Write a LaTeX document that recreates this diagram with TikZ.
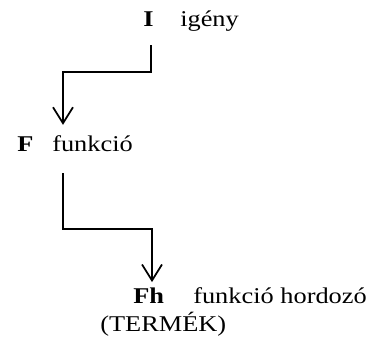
\documentclass[tikz,border=0pt]{standalone}
\usepackage{fontspec}
\setmainfont{Liberation Serif}[FakeStretch=1.17]
\usetikzlibrary{arrows.meta,calc}
\tikzset{
  lbl/.style={anchor=base west, inner sep=0pt, font=\fontsize{16.9}{19}\selectfont},
  conn/.style={line width=1.5pt},
  arr/.style={conn, -{Straight Barb[length=12pt,width=15pt,line width=1.3pt]}}
}
\begin{document}
\begin{tikzpicture}[x=0.75pt,y=-0.75pt]
\useasboundingbox (0,0) rectangle (374,338);
\node[lbl] (I) at (143,27) {\textbf{I}};
\node[lbl] (ig) at (180,27) {igény};
\node[lbl] (F) at (17,152) {\textbf{F}};
\node[lbl] (funk) at (52,152) {funkció};
\node[lbl] (Fh) at (133,303) {\textbf{Fh}};
\node[lbl] (fh) at (193,303) {funkció hordozó};
\node[lbl] (T) at (100,331) {(TERMÉK)};
\draw[arr] ($(I.south west)+(8,18)$) -- ++(0,27) -| ($(funk.north west)+(11,-11)$);
\draw[arr] ($(funk.south west)+(11,21)$) -- ++(0,56) -| ($(Fh.north west)+(19,-5)$);
\end{tikzpicture}
\end{document}
